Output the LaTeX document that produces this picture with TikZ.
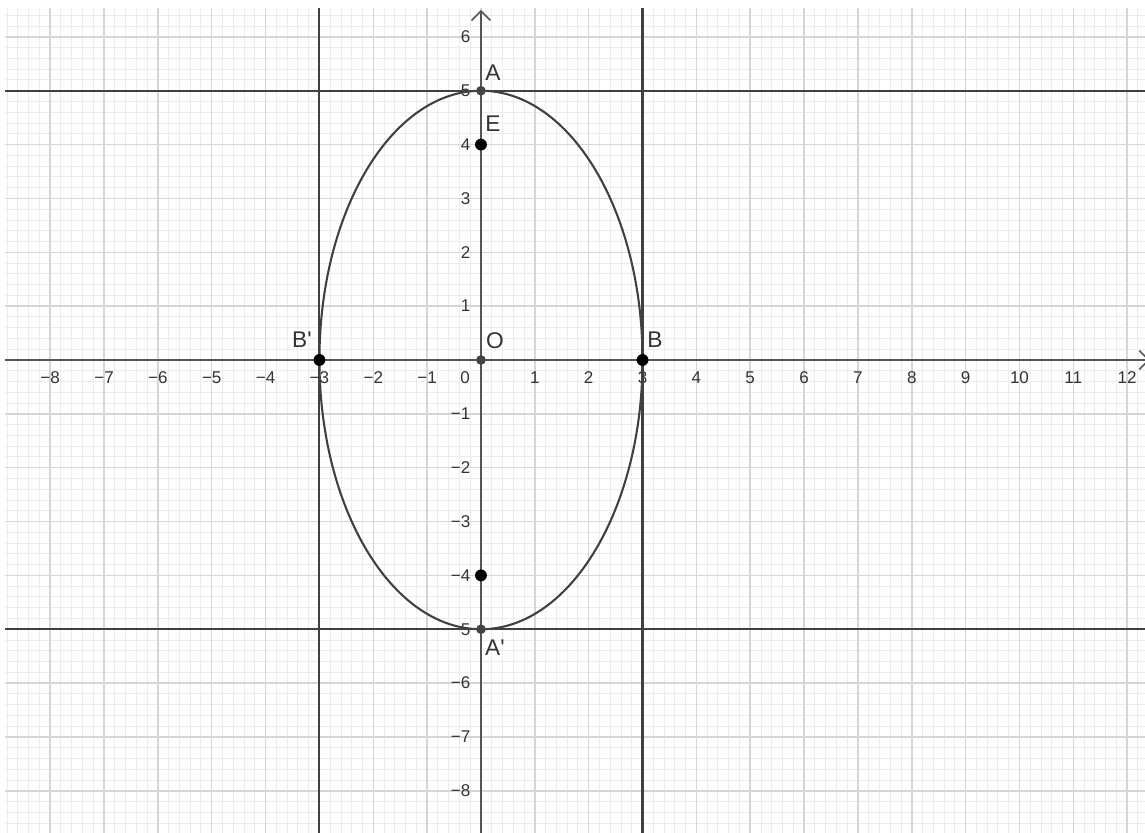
\documentclass[tikz,border=0pt]{standalone}
\usepackage{fontspec}
\setmainfont{Liberation Sans}
\usetikzlibrary{arrows.meta}
\definecolor{gridmajor}{HTML}{D6D6D6}
\definecolor{gridminor}{HTML}{ECECEC}
\definecolor{axiscol}{HTML}{555555}
\definecolor{curvecol}{HTML}{404040}
\definecolor{labelcol}{HTML}{333333}
\definecolor{dotgray}{HTML}{444444}
\tikzset{
  minorgrid/.style={draw=gridminor, line width=0.5pt},
  majorgrid/.style={draw=gridmajor, line width=0.8pt},
  axisline/.style={draw=axiscol, line width=0.8pt},
  conicline/.style={draw=curvecol, line width=1.1pt},
  ticklabel/.style={text=labelcol, font=\fontsize{9}{10}\selectfont, inner sep=0pt},
  ptlabel/.style={text=labelcol, font=\fontsize{12}{13}\selectfont, inner sep=0pt},
  bigdot/.style={circle, fill=black, inner sep=0pt, minimum size=0.22cm},
  smalldot/.style={circle, fill=dotgray, inner sep=0pt, minimum size=0.18cm},
}
\begin{document}
\begin{tikzpicture}[x=1cm,y=1cm]
\useasboundingbox (-8.932,-8.784) rectangle (12.331,6.685);
\fill[white] (-8.932,-8.784) rectangle (12.331,6.685);
% grid
\draw[minorgrid] (-8.84,-8.784) grid[step=0.2] (12.331,6.537);
\draw[majorgrid] (-8.84,-8.784) grid[step=1] (12.331,6.537);
% axes
\coordinate (xl) at (-8.84,0);
\coordinate (xr) at (12.42,0);
\coordinate (yb) at (0,-8.784);
\coordinate (yt) at (0,6.5);
\draw[axisline, -{Straight Barb[length=5pt,width=10pt]}] (xl) -- (xr);
\draw[axisline, -{Straight Barb[length=5pt,width=10pt]}] (yb) -- (yt);
% tick labels
\foreach \v/\t in {-8/−8,-7/−7,-6/−6,-5/−5,-4/−4,-3/−3,-2/−2,-1/−1,1/1,2/2,3/3,4/4,5/5,6/6,7/7,8/8,9/9,10/10,11/11,12/12}
  \node[ticklabel] (tx\v) at (\v,-0.334) {\t};
\node[ticklabel] (t0) at (-0.297,-0.334) {0};
\foreach \v/\t in {-8/−8,-7/−7,-6/−6,-5/−5,-4/−4,-3/−3,-2/−2,-1/−1,1/1,2/2,3/3,4/4,5/5,6/6}
  \node[ticklabel, anchor=east] (ty\v) at (-0.19,\v) {\t};
% tangent lines
\draw[conicline] (-3,-8.784) -- (-3,6.537);
\draw[conicline] (3,-8.784) -- (3,6.537);
\draw[conicline] (-8.84,5) -- (12.331,5);
\draw[conicline] (-8.84,-5) -- (12.331,-5);
% ellipse
\draw[conicline] (0,0) ellipse [x radius=3, y radius=5];
% points
\node[smalldot] (A) at (0,5) {};
\node[bigdot] (E) at (0,4) {};
\node[bigdot] (F) at (0,-4) {};
\node[smalldot] (A2) at (0,-5) {};
\node[smalldot] (O) at (0,0) {};
\node[bigdot] (B) at (3,0) {};
\node[bigdot] (B2) at (-3,0) {};
% point labels
\node[ptlabel] (lA) at (0.223,5.33) {A};
\node[ptlabel] (lE) at (0.223,4.383) {E};
\node[ptlabel] (lB) at (3.231,0.371) {B};
\node[ptlabel] (lB2) at (-3.324,0.371) {B\textquotesingle};
\node[ptlabel] (lO) at (0.26,0.353) {O};
\node[ptlabel] (lA2) at (0.26,-5.348) {A\textquotesingle};
\end{tikzpicture}
\end{document}
